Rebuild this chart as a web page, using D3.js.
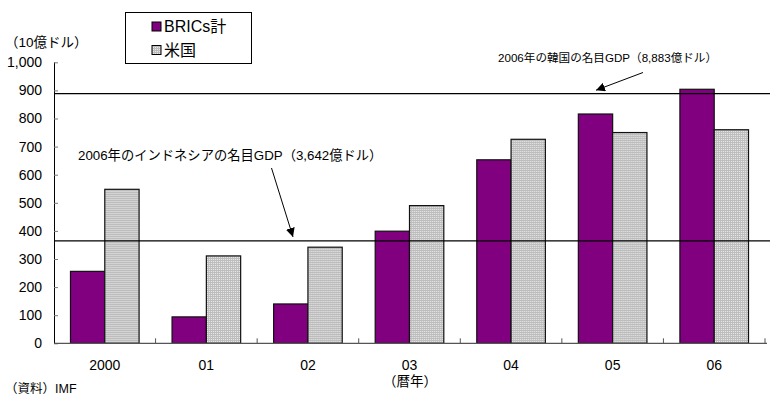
<!DOCTYPE html>
<html>
<head>
<meta charset="utf-8">
<script src="https://cdn.jsdelivr.net/npm/d3@7"></script>
<style>
  html, body { margin: 0; padding: 0; background: #fff; }
  svg { display: block; font-family: "Liberation Sans", Arial, "Noto Sans CJK JP", sans-serif; }
</style>
</head>
<body>
<svg id="chart" width="778" height="396"></svg>
<script>
// Nominal GDP growth (10億ドル), BRICs total vs United States
const years = ["2000", "01", "02", "03", "04", "05", "06"];
const seriesNames = ["BRICs計", "米国"];
const bricsValues = [256, 94, 140, 399, 653, 816, 904];
const usValues = [548, 311, 342, 490, 726, 750, 760];
const yTicks = [0, 100, 200, 300, 400, 500, 600, 700, 800, 900, 1000];

// Reference levels: 2006 nominal GDP of Korea and Indonesia (10億ドル)
const refLines = [
  { value: 888.3, label: "2006年の韓国の名目GDP（8,883億ドル）" },
  { value: 364.2, label: "2006年のインドネシアの名目GDP（3,642億ドル）" }
];

const svg = d3.select("#chart");
const x0 = 54, x1 = 765, yTop = 62.3, yBottom = 343.3;

const x = d3.scaleBand().domain(years).range([x0, x1]).paddingInner(0).paddingOuter(0);
const xs = d3.scaleBand().domain([0, 1]).range([0, 68.6]);
const groupOffset = (x.bandwidth() - 68.6) / 2;
const y = d3.scaleLinear().domain([0, 1000]).range([yBottom, yTop]);

// Dotted light-gray hatch used for the US bars
const defs = svg.append("defs");
const pat = defs.append("pattern")
  .attr("id", "grid").attr("width", 2).attr("height", 2)
  .attr("patternUnits", "userSpaceOnUse");
pat.append("rect").attr("width", 2).attr("height", 2).attr("fill", "#e9e9e9");
pat.append("rect").attr("width", 2).attr("height", 1).attr("fill", "#bdbdbd");
pat.append("rect").attr("width", 1).attr("height", 2).attr("fill", "#bdbdbd");

const fills = ["#800080", "url(#grid)"];

// Y axis (ticks pointing into the plot)
const yAxis = d3.axisRight(y).tickValues(yTicks).tickSize(4).tickFormat("");
const yg = svg.append("g").attr("transform", `translate(${x0},0)`).call(yAxis);
yg.select(".domain").attr("stroke", "#000").attr("stroke-width", 1).attr("d", `M0.5,${yTop}V${yBottom}`);
yg.selectAll(".tick line").attr("stroke", "#777");

// Y tick labels
svg.append("g").selectAll("text").data(yTicks).join("text")
  .attr("x", 42).attr("y", d => y(d)).attr("dy", "0.35em")
  .attr("text-anchor", "end").attr("font-size", 14).attr("fill", "#000")
  .text(d => d3.format(",")(d));

// Bars
const data = years.map((yr, i) => ({ yr, vals: [bricsValues[i], usValues[i]] }));
const groups = svg.append("g").selectAll("g").data(data).join("g")
  .attr("transform", d => `translate(${x(d.yr) + groupOffset},0)`);
groups.selectAll("rect").data(d => d.vals.map((v, k) => ({ v, k }))).join("rect")
  .attr("x", d => xs(d.k))
  .attr("y", d => y(d.v))
  .attr("width", xs.bandwidth())
  .attr("height", d => yBottom - y(d.v))
  .attr("fill", d => fills[d.k])
  .attr("stroke", "#111").attr("stroke-width", 1.2);

// X axis (ticks pointing up between categories)
const xAxisG = svg.append("g");
xAxisG.append("line").attr("x1", x0).attr("x2", 767).attr("y1", yBottom).attr("y2", yBottom)
  .attr("stroke", "#555").attr("stroke-width", 1.2);
xAxisG.selectAll("line.tk").data(years).join("line").attr("class", "tk")
  .attr("x1", d => x(d) + x.bandwidth()).attr("x2", d => x(d) + x.bandwidth())
  .attr("y1", yBottom).attr("y2", yBottom - 5).attr("stroke", "#555");
xAxisG.selectAll("text").data(years).join("text")
  .attr("x", d => x(d) + x.bandwidth() / 2).attr("y", 365).attr("dy", "0.35em")
  .attr("text-anchor", "middle").attr("font-size", 14).text(d => d);

// Reference lines
svg.append("g").selectAll("line").data(refLines).join("line")
  .attr("x1", x0).attr("x2", 770)
  .attr("y1", d => y(d.value)).attr("y2", d => y(d.value))
  .attr("stroke", "#000").attr("stroke-width", 1.2);

// Arrowhead marker
defs.append("marker").attr("id", "arrow").attr("viewBox", "0 0 10 10")
  .attr("refX", 10).attr("refY", 5).attr("markerWidth", 9).attr("markerHeight", 9)
  .attr("markerUnits", "userSpaceOnUse").attr("orient", "auto")
  .append("path").attr("d", "M0,0L10,5L0,10z").attr("fill", "#000");

// Korea annotation
svg.append("text").attr("x", 498).attr("y", 58).attr("dy", "0.35em")
  .attr("font-size", 11.6).text(refLines[0].label);
svg.append("line").attr("x1", 643).attr("y1", 72.5).attr("x2", 596).attr("y2", y(refLines[0].value) - 3.5)
  .attr("stroke", "#000").attr("stroke-width", 1).attr("marker-end", "url(#arrow)");

// Indonesia annotation
svg.append("text").attr("x", 78).attr("y", 155).attr("dy", "0.35em")
  .attr("font-size", 13.3).text(refLines[1].label);
svg.append("line").attr("x1", 271.5).attr("y1", 168).attr("x2", 293).attr("y2", y(refLines[1].value) - 4)
  .attr("stroke", "#000").attr("stroke-width", 1).attr("marker-end", "url(#arrow)");

// Legend
const lg = svg.append("g");
lg.append("rect").attr("x", 125.5).attr("y", 12.5).attr("width", 126).attr("height", 51)
  .attr("fill", "#fff").attr("stroke", "#000").attr("stroke-width", 1);
seriesNames.forEach((name, i) => {
  const cy = 26.5 + i * 23.5;
  lg.append("rect").attr("x", 152).attr("y", cy - 4.5).attr("width", 9).attr("height", 9)
    .attr("fill", fills[i]).attr("stroke", "#000").attr("stroke-width", 1);
  lg.append("text").attr("x", 164).attr("y", cy).attr("dy", "0.36em")
    .attr("font-size", 16).text(name);
});

// Unit, source and axis captions
svg.append("text").attr("x", 5).attr("y", 42).attr("dy", "0.35em").attr("font-size", 13.5).text("（10億ドル）");
svg.append("text").attr("x", 5).attr("y", 389).attr("dy", "0.35em").attr("font-size", 12.5).text("（資料）IMF");
svg.append("text").attr("x", 383).attr("y", 381).attr("dy", "0.35em").attr("font-size", 13.5).text("（暦年）");
</script>
</body>
</html>
